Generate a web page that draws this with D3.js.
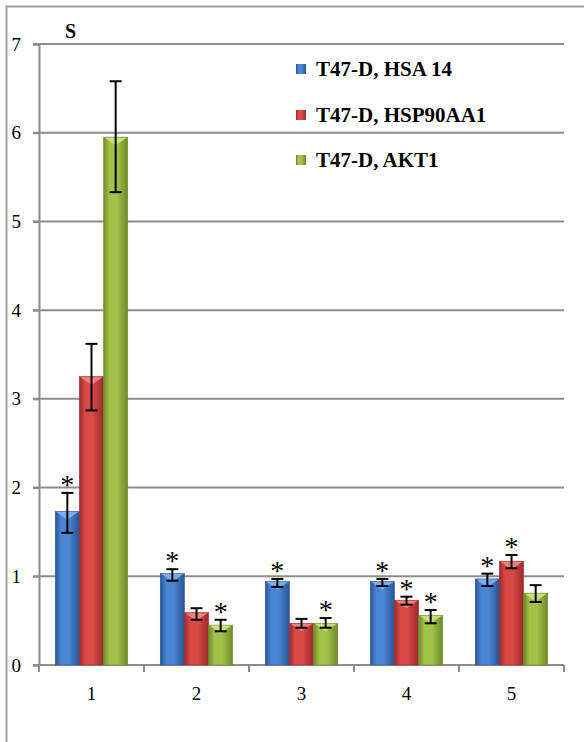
<!DOCTYPE html>
<html>
<head>
<meta charset="utf-8">
<script src="https://cdn.jsdelivr.net/npm/d3@7"></script>
<style>
  body { margin: 0; background: #fff; }
</style>
</head>
<body>
<div id="graph_area"></div>
<script>
// Data
const categories = ['1', '2', '3', '4', '5'];
const seriesNames = ['T47-D, HSA 14', 'T47-D, HSP90AA1', 'T47-D, AKT1'];
const hsaValues = [1.73, 1.03, 0.94, 0.94, 0.97];
const hsaLow = [1.49, 0.95, 0.88, 0.89, 0.89];
const hsaHigh = [1.94, 1.08, 0.97, 0.97, 1.03];
const hspValues = [3.25, 0.59, 0.47, 0.73, 1.17];
const hspLow = [2.87, 0.51, 0.42, 0.68, 1.09];
const hspHigh = [3.62, 0.64, 0.52, 0.77, 1.24];
const aktValues = [5.95, 0.45, 0.47, 0.56, 0.81];
const aktLow = [5.33, 0.38, 0.42, 0.47, 0.71];
const aktHigh = [6.58, 0.51, 0.53, 0.62, 0.90];
const hsaStar = [true, true, true, true, true];
const hspStar = [false, false, false, true, true];
const aktStar = [false, true, true, true, false];
const yTicks = [0, 1, 2, 3, 4, 5, 6, 7];

const FONT = '"Liberation Serif", "Times New Roman", Times, "DejaVu Serif", serif';

const colors = [
  { mid: '#4a86d4', edge: '#2a5594', tip: '#7fb2ee' },
  { mid: '#d84a48', edge: '#9c2a2a', tip: '#f08a86' },
  { mid: '#a3c24a', edge: '#6f8a2a', tip: '#cde27e' },
];

const series = [
  { name: seriesNames[0], values: hsaValues, low: hsaLow, high: hsaHigh, star: hsaStar },
  { name: seriesNames[1], values: hspValues, low: hspLow, high: hspHigh, star: hspStar },
  { name: seriesNames[2], values: aktValues, low: aktLow, high: aktHigh, star: aktStar },
];

const margin = { top: 44, left: 39 };
const width = 525;
const height = 621;

const root = d3.select('#graph_area')
  .append('svg')
    .attr('width', 584)
    .attr('height', 742)
    .attr('font-family', FONT)
    .style('font-family', FONT);

// Outer frame
root.append('path')
  .attr('d', 'M6.5,742 V6.5 H584')
  .attr('fill', 'none')
  .attr('stroke', '#a0a0a0')
  .attr('stroke-width', 2);

// Gradients
const defs = root.append('defs');
colors.forEach((c, i) => {
  const g = defs.append('linearGradient')
    .attr('id', `grad${i}`)
    .attr('x1', '0%').attr('x2', '100%').attr('y1', '0%').attr('y2', '0%');
  g.append('stop').attr('offset', '0%').attr('stop-color', c.edge);
  g.append('stop').attr('offset', '25%').attr('stop-color', c.mid);
  g.append('stop').attr('offset', '55%').attr('stop-color', c.mid);
  g.append('stop').attr('offset', '100%').attr('stop-color', c.edge);
});

const svg = root.append('g')
  .attr('transform', `translate(${margin.left},${margin.top})`);

// Scales
const x = d3.scaleBand()
  .domain(categories)
  .range([0, width])
  .paddingInner(0.31)
  .paddingOuter(0.155);
const x1 = d3.scaleBand()
  .domain(d3.range(series.length))
  .range([0, x.bandwidth()]);
const y = d3.scaleLinear()
  .domain([0, 7])
  .range([height, 0]);

// Grid lines
svg.append('g')
  .selectAll('line')
  .data(yTicks)
  .join('line')
    .attr('x1', -6)
    .attr('x2', width)
    .attr('y1', d => y(d))
    .attr('y2', d => y(d))
    .attr('stroke', '#8c8c8c')
    .attr('stroke-width', 2);

// Y axis
const yAxis = svg.append('g')
  .call(d3.axisLeft(y).tickValues(yTicks).tickSize(6).tickPadding(12).tickFormat(d3.format('d')));
yAxis.attr('font-family', FONT);
yAxis.select('.domain').attr('stroke', '#8c8c8c').attr('stroke-width', 2);
yAxis.selectAll('.tick line').attr('stroke', '#8c8c8c').attr('stroke-width', 2);
yAxis.selectAll('.tick text')
  .attr('font-size', 19)
  .attr('fill', '#000');

// X axis
const xAxisG = svg.append('g')
  .attr('transform', `translate(0,${height})`);
xAxisG.append('line')
  .attr('x1', 0).attr('x2', width)
  .attr('stroke', '#8c8c8c').attr('stroke-width', 2);
xAxisG.selectAll('.sep')
  .data(d3.range(categories.length + 1))
  .join('line')
    .attr('class', 'sep')
    .attr('x1', d => d * width / categories.length)
    .attr('x2', d => d * width / categories.length)
    .attr('y1', 0).attr('y2', 7)
    .attr('stroke', '#8c8c8c').attr('stroke-width', 2);
xAxisG.selectAll('.lbl')
  .data(categories)
  .join('text')
    .attr('class', 'lbl')
    .attr('x', d => x(d) + x.bandwidth() / 2)
    .attr('y', 35)
    .attr('text-anchor', 'middle')
    .attr('font-size', 19)
    .text(d => d);

// Bars
const groups = svg.append('g')
  .selectAll('g')
  .data(categories)
  .join('g')
    .attr('transform', d => `translate(${x(d)},0)`);

series.forEach((s, si) => {
  const bw = x1.bandwidth();
  groups.append('rect')
    .attr('x', x1(si))
    .attr('y', (d, i) => y(s.values[i]))
    .attr('width', bw)
    .attr('height', (d, i) => height - y(s.values[i]))
    .attr('fill', `url(#grad${si})`)
    .attr('stroke', colors[si].edge)
    .attr('stroke-width', 0.6);
  // top bevel
  groups.append('path')
    .attr('d', (d, i) => {
      const top = y(s.values[i]);
      const x0 = x1(si);
      return `M${x0 + 1},${top + 0.5} L${x0 + bw - 1},${top + 0.5} L${x0 + bw / 2},${top + 8} Z`;
    })
    .attr('fill', colors[si].tip)
    .attr('opacity', 0.9);
});

// Error bars
series.forEach((s, si) => {
  const cx = x1(si) + x1.bandwidth() / 2;
  const eg = groups.append('g')
    .attr('stroke', '#000')
    .attr('stroke-width', 2);
  eg.append('line')
    .attr('x1', cx).attr('x2', cx)
    .attr('y1', (d, i) => y(s.low[i]))
    .attr('y2', (d, i) => y(s.high[i]));
  eg.append('line')
    .attr('x1', cx - 6).attr('x2', cx + 6)
    .attr('y1', (d, i) => y(s.low[i]))
    .attr('y2', (d, i) => y(s.low[i]));
  eg.append('line')
    .attr('x1', cx - 6).attr('x2', cx + 6)
    .attr('y1', (d, i) => y(s.high[i]))
    .attr('y2', (d, i) => y(s.high[i]));
  // significance marks
  groups.append('text')
    .attr('x', cx)
    .attr('y', (d, i) => y(s.high[i]) + 1)
    .attr('text-anchor', 'middle')
    .attr('font-size', 28)
    .text((d, i) => s.star[i] ? '*' : '');
});

// Axis title
root.append('text')
  .attr('x', 65)
  .attr('y', 38)
  .attr('font-size', 20)
  .attr('font-weight', 'bold')
  .text('S');

// Legend
const legend = root.append('g')
  .attr('transform', 'translate(296,0)');
const legendY = [76, 122, 167];
series.forEach((s, si) => {
  legend.append('rect')
    .attr('x', 0)
    .attr('y', legendY[si] - 12)
    .attr('width', 10)
    .attr('height', 10)
    .attr('fill', `url(#grad${si})`);
  legend.append('text')
    .attr('x', 20)
    .attr('y', legendY[si])
    .attr('font-size', 21)
    .attr('font-weight', 'bold')
    .text(s.name);
});
</script>
</body>
</html>
